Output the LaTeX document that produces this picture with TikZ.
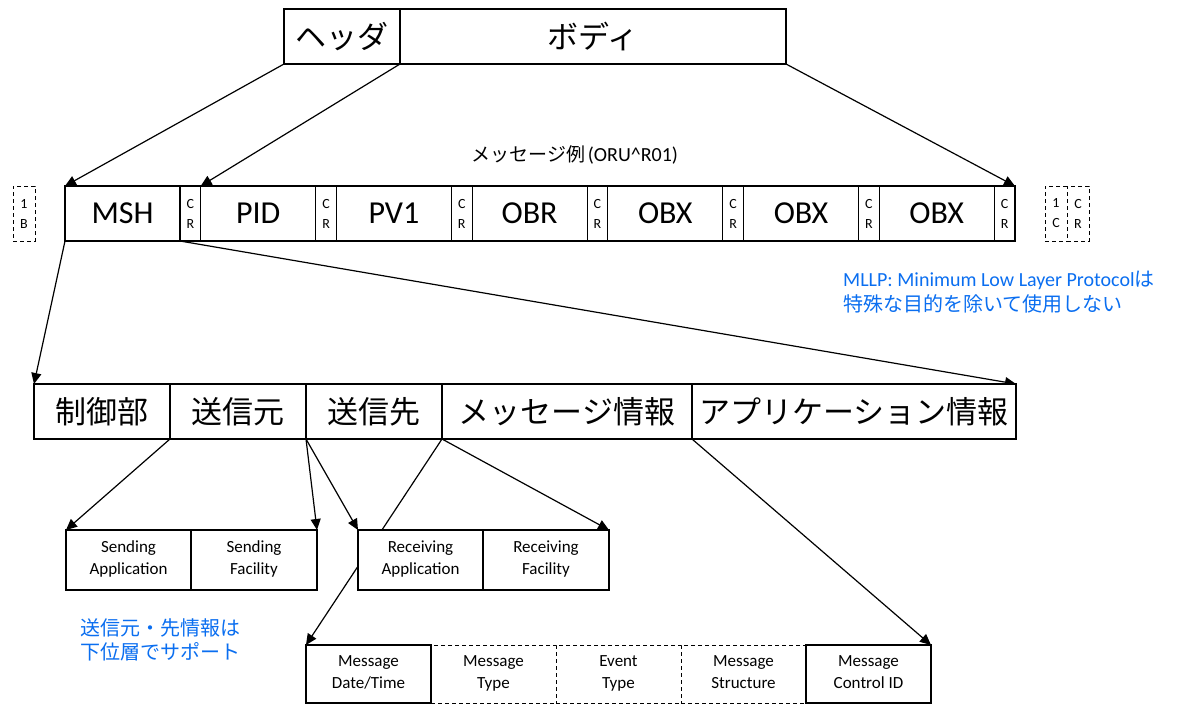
\documentclass[tikz,border=0pt]{standalone}
\usepackage{fontspec}
\setmainfont{Carlito}
\newfontfamily\jp{Noto Sans CJK JP}
\usetikzlibrary{arrows.meta,backgrounds}
\definecolor{noteblue}{RGB}{10,110,240}

\begin{document}
\begin{tikzpicture}[x=1pt, y=-1pt,
        box/.style = {draw, fill=white, line width=1.2pt, inner sep=0pt, outer sep=0pt, anchor=north west, align=center},
        dashbox/.style = {box, line width=0.9pt, dash pattern=on 4pt off 3pt},
        segbox/.style = {box, minimum width=115, minimum height=55, font=\fontsize{32}{38}\selectfont},
        crbox/.style = {box, minimum width=20.7, minimum height=55, font=\fontsize{14}{20}\selectfont},
        bigjp/.style = {box, minimum height=55, font=\jp\fontsize{31}{36}\selectfont},
        field/.style = {box, minimum width=125, font=\fontsize{17}{22}\selectfont,
            execute at begin node=\rule{0pt}{18pt}, execute at end node=\rule[-4pt]{0pt}{4pt}},
        note/.style = {text=noteblue, inner sep=0pt, align=left, font=\jp\fontsize{20}{24.5}\selectfont},
        link/.style = {line width=1.2pt, -{Triangle[length=11pt,width=10pt]}}]
    \useasboundingbox (0,0) rectangle (1196,704);

    \node[bigjp, minimum width=116] (header) at (284,9) {ヘッダ};
    \node[bigjp, minimum width=386] (body) at (header.north east) {ボディ};

    \node (title) at (575,155) {{\jp\fontsize{19}{23}\selectfont メッセージ例} {\fontsize{20}{23}\selectfont (ORU\textasciicircum R01)}};

    \foreach \seg [count=\i] in {MSH,PID,PV1,OBR,OBX,OBX,OBX} {
        \node[segbox] (s\i) at ({65+135.7*(\i-1)},186) {\seg};
        \node[crbox] (cr\i) at (s\i.north east) {C\\R};
    }
    \node[dashbox, minimum width=22, minimum height=55, font=\fontsize{14}{20}\selectfont] (sb) at (13,186) {1\\B};
    \node[dashbox, minimum width=22, minimum height=55, font=\fontsize{14}{20}\selectfont] (eb) at (1045,186) {1\\C};
    \node[dashbox, minimum width=22, minimum height=55, font=\fontsize{14}{20}\selectfont] (ecr) at (eb.north east) {C\\R};

    \node[note] (mllp) at (843,271) [anchor=north west] {{\fontfamily{\familydefault}\selectfont MLLP: Minimum Low Layer Protocol}は\\特殊な目的を除いて使用しない};

    \node[bigjp, minimum width=136] (ctrl) at (34,384) {制御部};
    \node[bigjp, minimum width=136] (sender) at (ctrl.north east) {送信元};
    \node[bigjp, minimum width=136] (receiver) at (sender.north east) {送信先};
    \node[bigjp, minimum width=250] (msginfo) at (receiver.north east) {メッセージ情報};
    \node[bigjp, minimum width=324] (appinfo) at (msginfo.north east) {アプリケーション情報};

    \node[field, minimum height=60] (sendapp) at (66,530) {Sending\\Application};
    \node[field, minimum height=60, minimum width=126] (sendfac) at (sendapp.north east) {Sending\\Facility};
    \node[field, minimum height=60] (recvapp) at (358,530) {Receiving\\Application};
    \node[field, minimum height=60, minimum width=126] (recvfac) at (recvapp.north east) {Receiving\\Facility};

    \node[note] (lower) at (80,618) [anchor=north west] {送信元・先情報は\\下位層でサポート};

    \node[field, dashbox, minimum height=58] (msgtype) at (431,645) {Message\\Type};
    \node[field, dashbox, minimum height=58] (evtype) at (msgtype.north east) {Event\\Type};
    \node[field, dashbox, minimum height=58] (msgstruct) at (evtype.north east) {Message\\Structure};
    \node[field, minimum height=58] (msgdate) at (306,645) {Message\\Date/Time};
    \node[field, minimum height=58] (msgctrl) at (msgstruct.north east) {Message\\Control ID};

    \begin{scope}[on background layer]
        \draw[link] (header.south west) -- (s1.north west);
        \draw[link] (header.south east) -- (s2.north west);
        \draw[link] (body.south east) -- (cr7.north east);
        \draw[link] (s1.south west) -- (ctrl.north west);
        \draw[link] (cr1.south west) -- (appinfo.north east);
        \draw[link] (sender.south west) -- (sendapp.north west);
        \draw[link] (sender.south east) -- (sendfac.north east);
        \draw[link] (receiver.south west) -- (recvapp.north west);
        \draw[link] (receiver.south east) -- (recvfac.north east);
        \draw[link] (msginfo.south west) -- (msgdate.north west);
        \draw[link] (appinfo.south west) -- (msgctrl.north east);
    \end{scope}
\end{tikzpicture}
\end{document}
